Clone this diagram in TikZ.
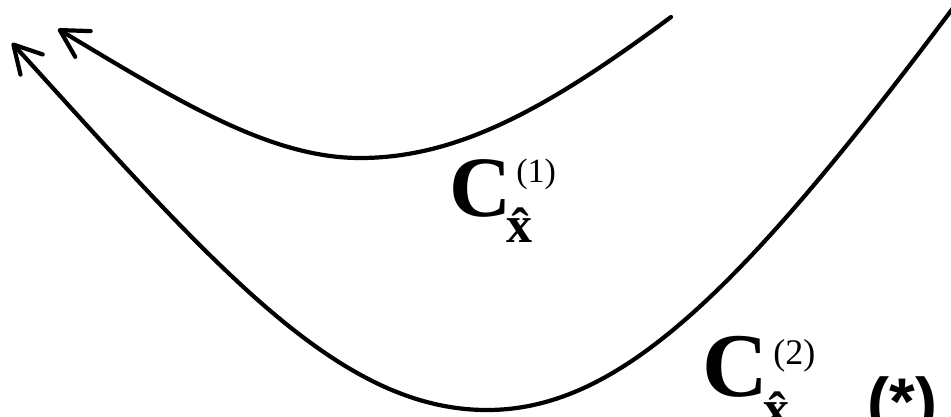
\documentclass[tikz,border=0pt]{standalone}
\usepackage{fontspec}
\setmainfont{Liberation Serif}
\newfontfamily\starfont{Liberation Sans}
\usetikzlibrary{arrows.meta}
\begin{document}
\begin{tikzpicture}[x=1pt,y=-1pt,
  curve/.style={line width=4.2pt, line cap=round,
    {Straight Barb[length=27pt,width=30pt,round]}-},
  lbl/.style={inner sep=0pt, outer sep=0pt, anchor=base west},
  bigC/.style={lbl, font=\fontsize{#1}{#1}\selectfont\bfseries},
  supl/.style={lbl, font=\fontsize{#1}{#1}\selectfont},
  subx/.style={lbl, font=\fontsize{52}{52}\selectfont\bfseries}]
\useasboundingbox (0,0) rectangle (951,416);
\clip (0,0) rectangle (951,416);
% curve 1
\coordinate (a1) at (58,29);
\coordinate (m1) at (360,158);
\coordinate (e1) at (671,17);
\draw[curve] (a1) .. controls (178,101) and (270,158) .. (m1)
  .. controls (460,158) and (551,106) .. (e1);
% curve 2
\coordinate (a2) at (12,43);
\coordinate (m2) at (487,410);
\coordinate (e2) at (953,8);
\draw[curve] (a2) .. controls (212,263) and (337,410) .. (m2)
  .. controls (620,410) and (742,290) .. (e2);
% labels
\node[bigC=86] (c1) at (449.6,216.5) {C};
\node[supl=34] (s1) at (516.4,182) {(1)};
\node[subx] (x1) at (506.8,242) {\^{x}};
\node[bigC=91] (c2) at (702.5,396.3) {C};
\node[supl=36] (s2) at (773.3,364) {(2)};
\node[subx] (x2) at (763.8,426) {\^{x}};
\node[lbl, font=\fontsize{66}{66}\selectfont\starfont\bfseries] (star) at (867.5,424) {(*)};
\end{tikzpicture}
\end{document}
